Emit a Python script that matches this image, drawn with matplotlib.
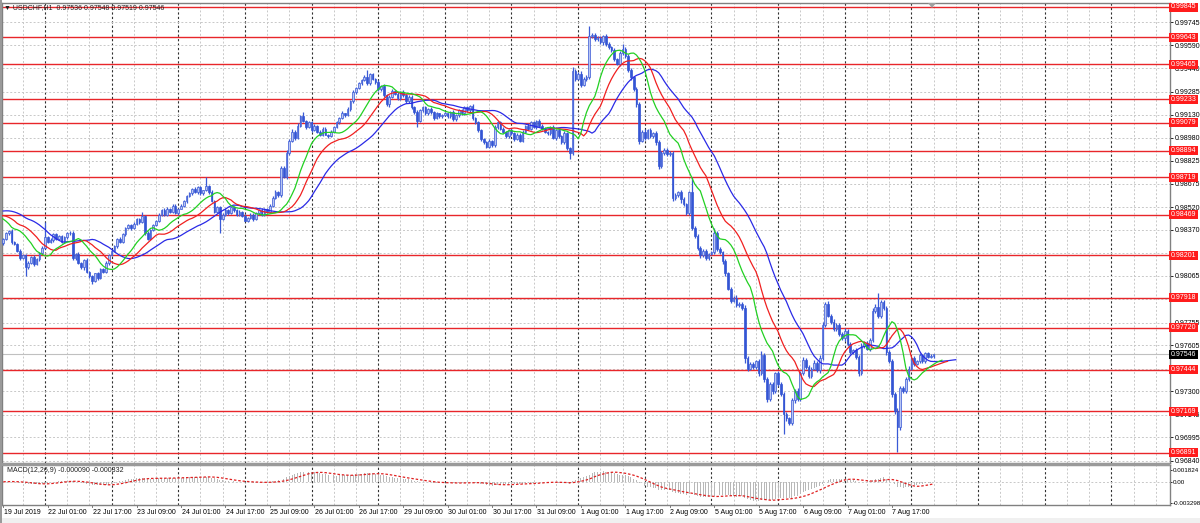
import numpy as np
import pandas as pd
import matplotlib
matplotlib.use("Agg")
import matplotlib.pyplot as plt
from matplotlib.patches import Rectangle, Polygon
from matplotlib.transforms import blended_transform_factory

# ---------------- data (prices in 1e-5 points) ----------------
open_first = 98280
close_pts = [
    98310, 98345, 98362, 98290, 98275, 98230, 98180, 98205, 98120, 98150,
    98190, 98140, 98175, 98215, 98250, 98320, 98290, 98300, 98340, 98310,
    98330, 98290, 98320, 98345, 98350, 98180, 98210, 98150, 98120, 98170,
    98090, 98060, 98030, 98080, 98050, 98110, 98090, 98150, 98200, 98230,
    98260, 98310, 98290, 98340, 98380, 98400, 98380, 98410, 98440, 98420,
    98460, 98350, 98310, 98370, 98400, 98430, 98470, 98500, 98470, 98510,
    98490, 98530, 98480, 98510, 98530, 98560, 98590, 98610, 98640, 98620,
    98650, 98610, 98630, 98660, 98620, 98560, 98490, 98520, 98440, 98470,
    98500, 98480, 98520, 98500, 98470, 98490, 98460, 98430, 98450, 98470,
    98440, 98480, 98500, 98470, 98510, 98490, 98530, 98580, 98620, 98600,
    98780, 98720, 98880, 98960, 99020, 98980, 99060, 99120, 99090, 99050,
    99080, 99030, 99060, 99020, 99000, 99040, 99000, 98990, 99020, 99050,
    99080, 99110, 99140, 99130, 99170, 99220, 99280, 99310, 99340, 99360,
    99380, 99340, 99400, 99370, 99350, 99300, 99320, 99260, 99200, 99250,
    99290, 99270, 99240, 99280, 99260, 99220, 99250, 99180, 99150, 99090,
    99160, 99180, 99140, 99170, 99150, 99110, 99140, 99120, 99130, 99140,
    99120, 99150, 99100, 99130, 99160, 99140, 99180, 99160, 99190, 99110,
    99080, 99030, 98970, 98950, 98920, 98960, 98930, 99050, 99080, 99040,
    99020, 98990, 99030, 99010, 98970, 99000, 98960, 99020, 99060, 99040,
    99080, 99050, 99090, 99060, 99040, 99020, 99010, 99050, 98980, 99030,
    98990, 98950, 99010, 98910, 98880, 99420, 99370, 99400, 99330, 99370,
    99380, 99650, 99660, 99630, 99640, 99610, 99650, 99600, 99580, 99560,
    99500, 99470, 99540, 99570, 99520, 99430, 99380, 99300, 99200, 98960,
    99020, 98980, 99030, 98990, 99010, 98950, 98790, 98880, 98900, 98870,
    98880, 98580, 98600, 98620, 98570, 98540, 98480, 98620, 98380, 98330,
    98250, 98200, 98230, 98180, 98210, 98220, 98350, 98240, 98220, 98160,
    98080, 97980, 97900, 97920, 97870, 97880, 97850, 97520, 97450, 97480,
    97460, 97500, 97420, 97540, 97380, 97250, 97350, 97300, 97420, 97350,
    97280, 97150, 97120, 97090, 97240, 97300, 97250, 97420, 97510, 97460,
    97400, 97450, 97490, 97440, 97520, 97740, 97880, 97800, 97760, 97710,
    97740, 97680, 97650, 97700, 97610, 97560, 97570, 97530, 97420, 97600,
    97620, 97580, 97640, 97830, 97860, 97800, 97890, 97850, 97560, 97500,
    97280, 97170, 97060, 97320, 97300, 97380, 97450, 97520, 97480, 97500,
    97540, 97500, 97550, 97530, 97536, 97546,
]
hi_wick = [
    8, 12, 5, 10, 6, 9, 14, 4, 7, 11,
    6, 13, 8, 5, 9, 100, 7, 12, 6, 10,
    8, 5, 11, 7, 9, 14, 6, 10, 8, 5,
    12, 7, 9, 6, 11, 8, 5, 13, 7, 10,
    9, 6, 12, 8, 5, 10, 7, 11, 6, 9,
    30, 8, 12, 6, 10, 7, 9, 5, 11, 8,
    6, 10, 13, 7, 9, 5, 8, 12, 6, 10,
    7, 9, 5, 60, 8, 11, 6, 10, 7, 9,
    12, 5, 8, 10, 6, 9, 7, 11, 5, 8,
    10, 6, 9, 12, 7, 5, 8, 10, 14, 6,
    10, 15, 20, 12, 18, 9, 14, 10, 30, 8,
    11, 7, 9, 6, 12, 8, 10, 5, 9, 7,
    11, 8, 13, 6, 10, 9, 12, 7, 10, 8,
    14, 50, 9, 11, 7, 10, 8, 12, 6, 9,
    11, 7, 10, 8, 12, 6, 9, 11, 7, 10,
    8, 12, 6, 9, 11, 7, 10, 5, 8, 12,
    6, 9, 11, 7, 10, 8, 12, 6, 9, 11,
    7, 10, 8, 6, 9, 12, 7, 14, 10, 8,
    11, 6, 9, 12, 7, 10, 8, 11, 6, 14,
    9, 12, 7, 10, 8, 11, 6, 9, 12, 7,
    10, 8, 11, 6, 9, 30, 15, 12, 18, 10,
    14, 70, 12, 16, 10, 14, 9, 13, 11, 8,
    12, 10, 15, 30, 9, 11, 14, 10, 12, 16,
    10, 14, 9, 12, 8, 11, 15, 10, 13, 9,
    12, 10, 16, 9, 12, 14, 10, 8, 100, 12,
    10, 14, 9, 12, 8, 11, 30, 10, 13, 9,
    14, 10, 12, 9, 15, 11, 10, 20, 14, 12,
    16, 10, 13, 25, 12, 15, 11, 14, 10, 16,
    12, 18, 14, 11, 16, 13, 20, 15, 18, 12,
    14, 11, 16, 12, 18, 20, 10, 15, 12, 17,
    11, 14, 12, 16, 10, 13, 11, 15, 12, 18,
    10, 14, 12, 20, 15, 90, 12, 16, 14, 11,
    15, 12, 18, 14, 16, 12, 15, 10, 13, 9,
    11, 8, 10, 7, 9, 2,
]
lo_wick = [
    10, 6, 9, 12, 7, 11, 8, 5, 60, 9,
    7, 12, 6, 10, 8, 5, 11, 7, 9, 6,
    10, 8, 5, 12, 7, 9, 11, 6, 8, 14,
    7, 10, 20, 8, 12, 6, 9, 7, 11, 5,
    8, 12, 6, 9, 10, 7, 11, 5, 8, 12,
    6, 14, 9, 7, 10, 8, 11, 6, 9, 12,
    7, 10, 8, 11, 5, 9, 12, 6, 10, 8,
    11, 7, 9, 6, 12, 8, 10, 7, 90, 9,
    6, 11, 8, 10, 7, 12, 9, 5, 11, 8,
    10, 7, 12, 6, 9, 11, 8, 10, 6, 12,
    15, 10, 12, 14, 9, 16, 11, 13, 10, 12,
    8, 11, 7, 10, 9, 12, 6, 10, 8, 11,
    7, 10, 9, 12, 8, 11, 10, 14, 9, 12,
    8, 11, 10, 9, 12, 14, 10, 8, 12, 15,
    9, 11, 8, 12, 10, 9, 13, 11, 14, 40,
    10, 8, 12, 9, 11, 14, 10, 12, 8, 9,
    11, 10, 13, 9, 12, 8, 11, 10, 12, 14,
    12, 15, 11, 13, 10, 9, 12, 11, 14, 10,
    9, 12, 10, 13, 11, 9, 12, 8, 11, 10,
    12, 9, 11, 13, 10, 8, 12, 11, 9, 14,
    11, 13, 10, 15, 40, 12, 16, 10, 14, 11,
    12, 15, 10, 13, 11, 9, 14, 12, 10, 16,
    13, 11, 15, 10, 12, 14, 16, 12, 18, 25,
    12, 15, 10, 13, 11, 16, 20, 12, 14, 10,
    13, 18, 12, 15, 20, 11, 14, 12, 10, 16,
    12, 15, 10, 13, 11, 9, 14, 12, 10, 18,
    14, 12, 16, 10, 13, 15, 12, 30, 14, 11,
    15, 12, 18, 14, 16, 20, 13, 15, 12, 17,
    14, 130, 18, 16, 12, 15, 13, 17, 11, 14,
    12, 15, 10, 13, 16, 12, 14, 11, 15, 13,
    12, 14, 11, 16, 13, 15, 12, 14, 18, 11,
    13, 10, 15, 12, 14, 16, 12, 15, 18, 16,
    20, 18, 160, 15, 14, 12, 13, 10, 12, 9,
    11, 10, 12, 9, 10, 17,
]
# median prices of the 8 hours before the first visible bar (alligator warm-up)
pre_median_pts = [98540, 98510, 98490, 98460, 98430, 98400, 98370, 98340]
jaw_seed, teeth_seed, lips_seed = 98490, 98440, 98400

time_label_bars = [0, 16, 32, 48, 64, 80, 96, 112, 128, 144, 160, 176, 192,
                   208, 224, 240, 256, 272, 288, 304, 320]
time_labels = ["19 Jul 2019", "22 Jul 01:00", "22 Jul 17:00", "23 Jul 09:00",
               "24 Jul 01:00", "24 Jul 17:00", "25 Jul 09:00", "26 Jul 01:00",
               "26 Jul 17:00", "29 Jul 09:00", "30 Jul 01:00", "30 Jul 17:00",
               "31 Jul 09:00", "1 Aug 01:00", "1 Aug 17:00", "2 Aug 09:00",
               "5 Aug 01:00", "5 Aug 17:00", "6 Aug 09:00", "7 Aug 01:00",
               "7 Aug 17:00"]
day_start_bars = [15, 39, 63, 87, 111, 135, 159, 183, 207, 231, 255, 279,
                  303, 327, 351, 375, 399]
price_ticks = [0.99745, 0.99590, 0.99440, 0.99285, 0.99130, 0.98980, 0.98825,
               0.98675, 0.98520, 0.98370, 0.98215, 0.98065, 0.97910, 0.97755,
               0.97605, 0.97450, 0.97300, 0.97145, 0.96995, 0.96840]
# tick labels fully covered by level boxes in the reference
hidden_ticks = [0.98215, 0.97910, 0.97450]
level_lines = [0.99845, 0.99643, 0.99465, 0.99233, 0.99079, 0.98894, 0.98719,
               0.98469, 0.98201, 0.97918, 0.97720, 0.97444, 0.97169, 0.96891]
current_price = 0.97546
macd_ticks = [0.001824, 0.0, -0.003298]
macd_ticklabels = ["0.001824", "0.00", "-0.003298"]
title_text = "USDCHF,H1  0.97536 0.97548 0.97519 0.97546"
macd_text = "MACD(12,26,9) -0.000090 -0.000332"

# ---------------- derived ----------------
c = np.array(close_pts) / 1e5
o = np.concatenate([[open_first / 1e5], c[:-1]])
h = np.maximum(o, c) + np.array(hi_wick) / 1e5
l = np.minimum(o, c) - np.array(lo_wick) / 1e5
n = len(c)
idx = np.arange(n)

median = np.concatenate([np.array(pre_median_pts) / 1e5, (h + l) / 2])
npre = len(pre_median_pts)

def smma(series, period, seed):
    out = np.empty(len(series))
    prev = seed
    for k, v in enumerate(series):
        prev = (prev * (period - 1) + v) / period
        out[k] = prev
    return out

jaw = smma(median, 13, jaw_seed / 1e5)
teeth = smma(median, 8, teeth_seed / 1e5)
lips = smma(median, 5, lips_seed / 1e5)
jpos = np.arange(len(median)) - npre

cs = pd.Series(c)
macd_main = (cs.ewm(span=12, adjust=False).mean() - cs.ewm(span=26, adjust=False).mean()).values
macd_sig = pd.Series(macd_main).rolling(9, min_periods=1).mean().values

# ---------------- layout ----------------
W, H = 1200, 523
PX, X0 = 2.777, 3.3
def pb(x):
    return (x - X0) / PX

FONT = ['Liberation Sans', 'DejaVu Sans']
plt.rcParams['font.family'] = FONT
FS = 5.0

fig = plt.figure(figsize=(W / 100, H / 100), dpi=100)
fig.patch.set_facecolor('white')

ax = fig.add_axes([2 / W, 1 - 463 / H, 1168 / W, 460 / H])
axm = fig.add_axes([2 / W, 1 - 505 / H, 1168 / W, 40 / H])

scale = 15098.0
ytop = 0.99845 + 4 / scale
ybot = 0.99845 - 456 / scale
xl = (pb(2), pb(1170))
ax.set_xlim(*xl)
ax.set_ylim(ybot, ytop)
axm.set_xlim(*xl)
mscale = 33 / (0.001824 + 0.003298)
axm.set_ylim(-0.003298 - 2 / mscale, 0.001824 + 5 / mscale)

for a in (ax, axm):
    a.set_facecolor('white')
    for s in a.spines.values():
        s.set_color('#808080')
        s.set_linewidth(1.0)
    a.set_xticks([])

# grids
light = '#c8c8c8'
grid_bars = np.arange(7, 421, 8)
for a in (ax, axm):
    for b in grid_bars:
        if b in day_start_bars:
            a.axvline(b, color='#303030', lw=0.8, ls=(0, (2, 2)), zorder=1)
        else:
            a.axvline(b, color=light, lw=0.7, ls=(0, (2, 2)), zorder=1)
for p in price_ticks:
    ax.axhline(p, color=light, lw=0.7, ls=(0, (2, 2)), zorder=1)
axm.axhline(0.0, color=light, lw=0.7, ls=(0, (2, 2)), zorder=1)

# level lines
for p in level_lines:
    ax.axhline(p, color='#e8262a', lw=1.0, zorder=2)
ax.axhline(current_price, color='#c0c0c0', lw=0.8, zorder=2)

# candles
bull = c >= o
ax.vlines(idx, l, h, color='#3a5ad6', lw=0.9, zorder=4)
body_lo = np.minimum(o, c)
body_h = np.maximum(np.abs(c - o), 0.00002)
ax.bar(idx[bull], body_h[bull], bottom=body_lo[bull], width=0.6,
       color='#b9c6f3', edgecolor='#3a5ad6', linewidth=0.5, zorder=5)
ax.bar(idx[~bull], body_h[~bull], bottom=body_lo[~bull], width=0.6,
       color='#3455d4', edgecolor='#3455d4', linewidth=0.5, zorder=5)

# alligator
ax.plot(jpos + 8, jaw, color='#2a2ae6', lw=0.9, zorder=6)
ax.plot(jpos + 5, teeth, color='#f02020', lw=0.9, zorder=6)
ax.plot(jpos + 3, lips, color='#22d022', lw=0.9, zorder=6)

# right price axis
ax.yaxis.tick_right()
ax.set_yticks(price_ticks)
ax.set_yticklabels(["" if p in hidden_ticks else f"{p:.5f}" for p in price_ticks])
ax.tick_params(axis='y', length=2, width=0.6, pad=1.2, labelsize=FS,
               colors='black')

axm.yaxis.tick_right()
axm.set_yticks(macd_ticks)
axm.set_yticklabels(macd_ticklabels)
axm.tick_params(axis='y', length=1.5, width=0.6, pad=0.5, labelsize=4.5)

# MACD
axm.bar(idx, macd_main, width=0.35, color='#b8b8b8', zorder=3)
axm.plot(idx, macd_sig, color='#e02020', lw=0.9, ls=(0, (2, 1.5)), zorder=4)
axm.text(5 / 1168, 0.85, macd_text, transform=axm.transAxes, fontsize=FS,
         va='center', ha='left', color='#202020', zorder=6)

# level labels on the price axis
bt = blended_transform_factory(ax.transAxes, ax.transData)
bw = 29 / 1168
bh = 9 / scale
for p in level_lines:
    ax.add_patch(Rectangle((1 - 1 / 1168, p - bh / 2), bw, bh, transform=bt,
                           clip_on=False, facecolor='#ff1c1c', edgecolor='none',
                           zorder=20))
    ax.text(1 + 13.5 / 1168, p, f"{p:.5f}", transform=bt, fontsize=FS,
            color='white', ha='center', va='center', zorder=21, clip_on=False)
ax.add_patch(Rectangle((1 - 1 / 1168, current_price - bh / 2), bw, bh,
                       transform=bt, clip_on=False, facecolor='black',
                       edgecolor='none', zorder=20))
ax.text(1 + 13.5 / 1168, current_price, f"{current_price:.5f}", transform=bt,
        fontsize=FS, color='white', ha='center', va='center', zorder=21,
        clip_on=False)

# time labels
bx = blended_transform_factory(axm.transData, axm.transAxes)
for b, s in zip(time_label_bars, time_labels):
    axm.text(b + 0.2, -0.2, s, transform=bx, fontsize=FS, ha='left',
             va='center', color='black', clip_on=False)
    axm.plot([b, b], [0, -0.06], transform=bx, color='#606060', lw=0.6,
             clip_on=False)

# title
fig.text(4 / W, 1 - 8 / H, "\u25bc " + title_text, fontsize=FS,
         ha='left', va='center', color='#202020', family=FONT)

# chart-shift marker
fig.add_artist(Polygon([[928 / W, 1 - 3 / H], [936 / W, 1 - 3 / H],
                        [932 / W, 1 - 8 / H]], closed=True,
                       transform=fig.transFigure, facecolor='#a0a0a0',
                       edgecolor='none'))
# separator and frame
fig.add_artist(Rectangle((2 / W, 1 - 466 / H), 1168 / W, 3 / H,
                         transform=fig.transFigure, facecolor='#9a9a9a',
                         edgecolor='none'))
fig.add_artist(Rectangle((0, 0), 1, 5 / H, transform=fig.transFigure,
                         facecolor='#f0f0f0', edgecolor='none'))
fig.add_artist(Rectangle((0, 0), 2 / W, 1, transform=fig.transFigure,
                         facecolor='#9a9a9a', edgecolor='none'))

fig.savefig("out.png", dpi=100, facecolor='white')
